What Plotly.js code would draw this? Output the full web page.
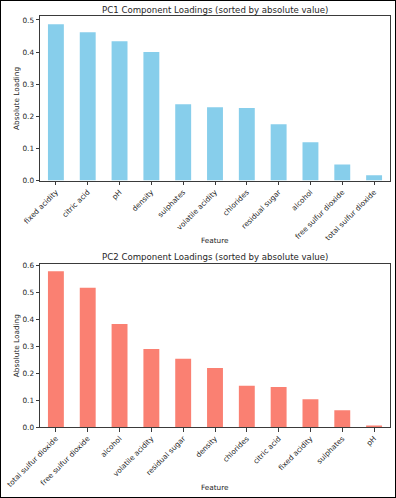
<!DOCTYPE html>
<html>
<head>
<meta charset="utf-8">
<script src="https://cdn.plot.ly/plotly-3.0.1.min.js"></script>
<style>
html, body { margin: 0; padding: 0; background: #fff; }
#wrap { width: 394px; height: 496px; border: 1px solid #000; }
#chart { width: 394px; height: 496px; }
</style>
</head>
<body>
<div id="wrap"><div id="chart"></div></div>
<script>
const pc1Features = ["fixed acidity", "citric acid", "pH", "density", "sulphates", "volatile acidity", "chlorides", "residual sugar", "alcohol", "free sulfur dioxide", "total sulfur dioxide"];
const pc1Values = [0.4865, 0.4616, 0.4336, 0.4004, 0.2375, 0.2282, 0.2261, 0.1753, 0.1193, 0.0498, 0.0166];

const pc2Features = ["total sulfur dioxide", "free sulfur dioxide", "alcohol", "volatile acidity", "residual sugar", "density", "chlorides", "citric acid", "fixed acidity", "sulphates", "pH"];
const pc2Values = [0.5778, 0.516, 0.3815, 0.289, 0.253, 0.2185, 0.153, 0.148, 0.1025, 0.0617, 0.006];

const titles = ["PC1 Component Loadings (sorted by absolute value)", "PC2 Component Loadings (sorted by absolute value)"];
const xLabel = "Feature";
const yLabel = "Absolute Loading";

const FONT = "DejaVu Sans, sans-serif";
const txt = "#262626";
const spine = "#3a3a3a";

const traces = [
  { type: "bar", x: pc1Features, y: pc1Values, xaxis: "x", yaxis: "y", width: 0.5,
    marker: { color: "#87CEEB", line: { width: 0 } }, hoverinfo: "x+y" },
  { type: "bar", x: pc2Features, y: pc2Values, xaxis: "x2", yaxis: "y2", width: 0.5,
    marker: { color: "#FA8072", line: { width: 0 } }, hoverinfo: "x+y" }
];

function xax(anchor) {
  return { anchor: anchor, domain: [0, 1], type: "category", range: [-0.5, 10.5],
    showline: true, mirror: true, linecolor: spine, linewidth: 1,
    ticks: "outside", ticklen: 3.5, tickcolor: spine, tickwidth: 1,
    tickangle: -45, tickfont: { family: FONT, size: 7.3, color: txt },
    showgrid: false, zeroline: false, fixedrange: true };
}
function yax(anchor, domain, max, dtick) {
  return { anchor: anchor, domain: domain, range: [0, max], dtick: dtick, tick0: 0, tickformat: ".1f",
    showline: true, mirror: true, linecolor: spine, linewidth: 1,
    ticks: "outside", ticklen: 3.5, tickcolor: spine, tickwidth: 1,
    tickfont: { family: FONT, size: 7.3, color: txt },
    showgrid: false, zeroline: false, fixedrange: true };
}

const ann = (text, x, y, size, angle) => ({
  text: text, xref: "paper", yref: "paper", x: x, y: y, xanchor: "center", yanchor: "middle",
  showarrow: false, textangle: angle || 0, font: { family: FONT, size: size, color: txt }
});

const layout = {
  width: 394, height: 496,
  margin: { l: 39, r: 5, t: 15, b: 70, pad: 0 },
  paper_bgcolor: "#fff", plot_bgcolor: "#fff",
  showlegend: false, bargap: 0.5,
  xaxis: xax("y"),
  yaxis: yax("x", [0.5996, 1], 0.5124, 0.1),
  xaxis2: xax("y2"),
  yaxis2: yax("x2", [0, 0.397], 0.605, 0.1),
  annotations: [
    ann(titles[0], 0.5, 1.0146, 8.6),
    ann(titles[1], 0.5, 0.4148, 8.6),
    ann(xLabel, 0.5, 0.4537, 7.3),
    ann(xLabel, 0.5, -0.1483, 7.3),
    ann(yLabel, -0.0666, 0.7999, 7.3, -90),
    ann(yLabel, -0.0666, 0.1984, 7.3, -90)
  ]
};

Plotly.newPlot("chart", traces, layout, { displayModeBar: false, staticPlot: true });
</script>
</body>
</html>
